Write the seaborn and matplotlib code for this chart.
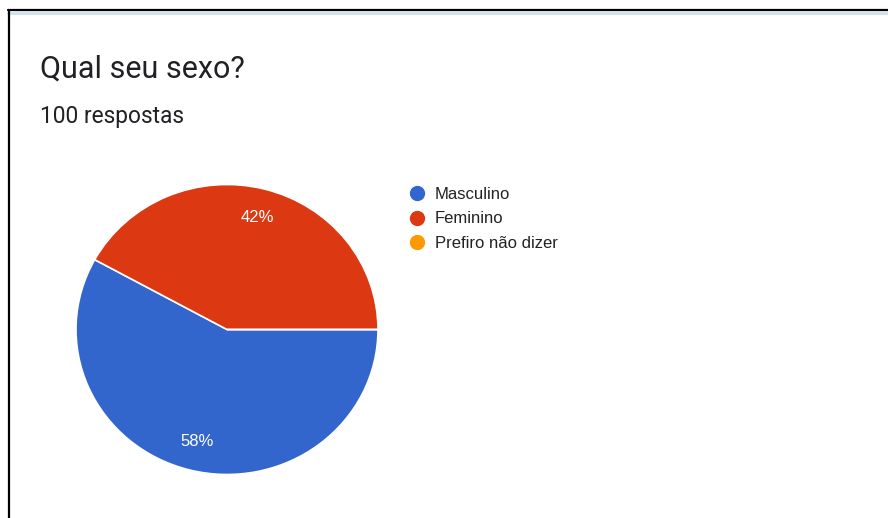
import matplotlib
matplotlib.use("Agg")
import matplotlib.pyplot as plt
from matplotlib.lines import Line2D
import seaborn as sns

categories = ["Masculino", "Feminino", "Prefiro não dizer"]
values = [58, 42, 0]
title = "Qual seu sexo?"
subtitle = "100 respostas"

sns.set_theme(style="white")
plt.rcParams['font.family'] = ['Roboto', 'DejaVu Sans']
colors = sns.color_palette(["#3366cc", "#dc3912", "#ff9900"])

W, H = 888, 518
fig = plt.figure(figsize=(W / 100, H / 100), dpi=100)
fig.patch.set_facecolor("white")

# pie axes box (slightly wider than tall, as in the screenshot)
x0, x1, y0, y1 = 76, 378, 184.5, 474.5
ax = fig.add_axes([x0 / W, (H - y1) / H, (x1 - x0) / W, (y1 - y0) / H])


def fmt(p):
    return f"{p:.0f}%" if p >= 1 else ""


wedges, texts, autotexts = ax.pie(
    values, colors=colors, startangle=0, counterclock=False,
    autopct=fmt, pctdistance=0.8,
    wedgeprops=dict(edgecolor="white", linewidth=1.2),
    textprops=dict(color="white", fontsize=12,
                   family=['Liberation Sans', 'DejaVu Sans']),
)
ax.set_xlim(-1, 1)
ax.set_ylim(-1, 1)
ax.set_aspect("auto")
ax.axis("off")

fig.text(40 / W, 1 - 78 / H, title, fontsize=22, color="#202124",
         va="baseline", ha="left")
fig.text(40 / W, 1 - 123 / H, subtitle, fontsize=16.4, color="#202124",
         va="baseline", ha="left")

handles = [Line2D([0], [0], marker="o", linestyle="", markersize=10,
                  markerfacecolor=c, markeredgecolor=c) for c in colors]
leg = fig.legend(handles, categories, loc="upper left",
                 bbox_to_anchor=(408.7 / W, 1 - 187 / H), frameon=False,
                 prop=dict(family=['Liberation Sans', 'DejaVu Sans'], size=12),
                 labelcolor="#222222", handletextpad=0.58,
                 labelspacing=0.56, borderaxespad=0, borderpad=0,
                 handlelength=1.0)

# screenshot frame
fig.add_artist(Line2D([8 / W, 1], [1 - 10 / H, 1 - 10 / H], color="black", lw=1.6))
fig.add_artist(Line2D([8 / W, 1], [1 - 12.5 / H, 1 - 12.5 / H], color="#cfe3ee", lw=2.2))
fig.add_artist(Line2D([9 / W, 9 / W], [0, 1 - 10 / H], color="black", lw=1.6))

fig.savefig("out.png", dpi=100, facecolor="white")
